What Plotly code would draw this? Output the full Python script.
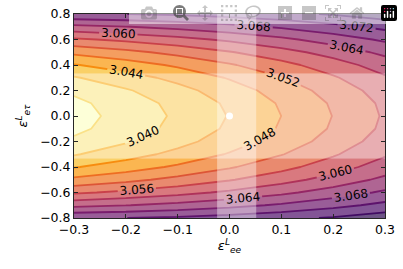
import plotly.graph_objects as go
import plotly.colors as pc

# ---- data ----
eps_ee = [-0.3, -0.2, -0.1, 0.0, 0.1, 0.2, 0.3]
eps_et = [-0.8, -0.7, -0.6, -0.5, -0.4, -0.3, -0.2, -0.1, 0.0,
          0.1, 0.2, 0.3, 0.4, 0.5, 0.6, 0.7, 0.8]

# rows follow eps_et, columns follow eps_ee
chi = [
    [3.07157, 3.07198, 3.07267, 3.07364, 3.07489, 3.07642, 3.07823],
    [3.06287, 3.06388, 3.06517, 3.06674, 3.06859, 3.07072, 3.07313],
    [3.05533, 3.05686, 3.05867, 3.06076, 3.06313, 3.06578, 3.06871],
    [3.04895, 3.05092, 3.05317, 3.05570, 3.05851, 3.06160, 3.06497],
    [3.04373, 3.04606, 3.04867, 3.05156, 3.05473, 3.05818, 3.06191],
    [3.03967, 3.04228, 3.04517, 3.04834, 3.05179, 3.05552, 3.05953],
    [3.03677, 3.03958, 3.04267, 3.04604, 3.04969, 3.05362, 3.05783],
    [3.03503, 3.03796, 3.04117, 3.04466, 3.04843, 3.05248, 3.05681],
    [3.03445, 3.03742, 3.04067, 3.04420, 3.04801, 3.05210, 3.05647],
    [3.03503, 3.03796, 3.04117, 3.04466, 3.04843, 3.05248, 3.05681],
    [3.03677, 3.03958, 3.04267, 3.04604, 3.04969, 3.05362, 3.05783],
    [3.03967, 3.04228, 3.04517, 3.04834, 3.05179, 3.05552, 3.05953],
    [3.04373, 3.04606, 3.04867, 3.05156, 3.05473, 3.05818, 3.06191],
    [3.04895, 3.05092, 3.05317, 3.05570, 3.05851, 3.06160, 3.06497],
    [3.05533, 3.05686, 3.05867, 3.06076, 3.06313, 3.06578, 3.06871],
    [3.06287, 3.06388, 3.06517, 3.06674, 3.06859, 3.07072, 3.07313],
    [3.07157, 3.07198, 3.07267, 3.07364, 3.07489, 3.07642, 3.07823],
]

level_first = 3.036
level_last = 3.076
level_step = 0.004

x_ticks = [-0.3, -0.2, -0.1, 0.0, 0.1, 0.2, 0.3]
y_ticks = [-0.8, -0.6, -0.4, -0.2, 0.0, 0.2, 0.4, 0.6, 0.8]
x_range = [-0.3, 0.3]
y_range = [-0.8, 0.8]

band_et = [-0.335, 0.335]   # allowed eps_etau range
band_ee = [-0.024, 0.052]   # allowed eps_ee range

sm_x = [0.0]
sm_y = [0.0]

x_title = "<i>ε</i><sup><i>L</i></sup><sub><i>ee</i></sub>"
y_title = "<i>ε</i><sup><i>L</i></sup><sub><i>eτ</i></sub>"

# ---- styling ----
FONT = "DejaVu Sans"
INFERNO = pc.sequential.Inferno


def inferno_at(t):
    t = min(max(t, 0.0), 1.0)
    n = len(INFERNO) - 1
    pos = t * n
    i = min(int(pos), n - 1)
    f = pos - i
    c0 = pc.hex_to_rgb(INFERNO[i])
    c1 = pc.hex_to_rgb(INFERNO[i + 1])
    r, g, b = [round(a + (bb - a) * f) for a, bb in zip(c0, c1)]
    return f"rgb({r},{g},{b})"


steps = [i / 40 for i in range(41)]
fill_cs = [[s, inferno_at(1.0 - 0.84 * s)] for s in steps]
line_cs = [[s, inferno_at(0.88 - 0.68 * s)] for s in steps]
transparent_cs = [[0, "rgba(0,0,0,0)"], [1, "rgba(0,0,0,0)"]]
white_cs = [[0, "white"], [1, "white"]]

fig = go.Figure()

# filled contours
fig.add_trace(go.Contour(
    x=eps_ee, y=eps_et, z=chi,
    autocontour=False,
    contours=dict(start=level_first, end=level_last, size=level_step,
                  coloring="fill", showlines=False),
    line=dict(width=0, smoothing=0),
    colorscale=fill_cs, opacity=0.7, showscale=False, hoverinfo="skip",
))

# coloured contour lines (labels invisible -> leaves gaps for the labels)
line_contours = dict(start=level_first, end=level_last, size=level_step,
                     coloring="lines", showlabels=True, labelformat=".3f",
                     labelfont=dict(family=FONT, size=12, color="rgba(0,0,0,0)"))
fig.add_trace(go.Contour(
    x=eps_ee, y=eps_et, z=chi,
    autocontour=False, contours=line_contours,
    line=dict(width=1.8, smoothing=0),
    colorscale=line_cs, showscale=False, hoverinfo="skip",
))


# translucent white bands, drawn as flat contour patches so that they stay
# in the contour layer (below the labels)
def band_trace(xs, ys):
    return go.Contour(
        x=xs, y=ys, z=[[0, 0], [0, 0]],
        autocontour=False,
        contours=dict(start=1, end=2, size=1, coloring="fill", showlines=False),
        line=dict(width=0), colorscale=white_cs, opacity=0.4,
        showscale=False, hoverinfo="skip",
    )


fig.add_trace(band_trace(x_range, band_et))
fig.add_trace(band_trace(band_ee, y_range))

# labels on top
label_contours = dict(line_contours)
label_contours["labelfont"] = dict(family=FONT, size=12, color="black")
fig.add_trace(go.Contour(
    x=eps_ee, y=eps_et, z=chi,
    autocontour=False, contours=label_contours,
    line=dict(width=1.8, smoothing=0),
    colorscale=transparent_cs, showscale=False, hoverinfo="skip",
))

# SM point
fig.add_trace(go.Scatter(
    x=sm_x, y=sm_y, mode="markers",
    marker=dict(color="white", size=7, line=dict(width=0)),
    showlegend=False, hoverinfo="skip",
))

axis_common = dict(
    ticks="inside", ticklen=4, tickwidth=1, tickcolor="#262626",
    mirror="allticks", showline=True, linecolor="#262626", linewidth=1,
    showgrid=False, zeroline=False, automargin=True,
    tickfont=dict(family=FONT, size=12.5, color="black"),
)

fig.update_layout(
    width=403, height=269,
    margin=dict(l=74, r=18, t=6, b=51),
    paper_bgcolor="white", plot_bgcolor="white",
    showlegend=False,
    font=dict(family=FONT, color="black"),
    xaxis=dict(range=x_range, tickvals=x_ticks, tickformat=".1f",
               title=dict(text=x_title, font=dict(family=FONT, size=13),
                          standoff=0),
               **axis_common),
    yaxis=dict(range=y_range, tickvals=y_ticks, tickformat=".1f",
               ticklabeloverflow="allow",
               title=dict(text=y_title, font=dict(family=FONT, size=13),
                          standoff=9),
               **axis_common),
)

# remove the default page margin so the 403x269 figure fills the window
fig.write_html(
    "out.html",
    post_script="document.body.style.margin='0';"
                "document.body.style.overflow='hidden';",
)
